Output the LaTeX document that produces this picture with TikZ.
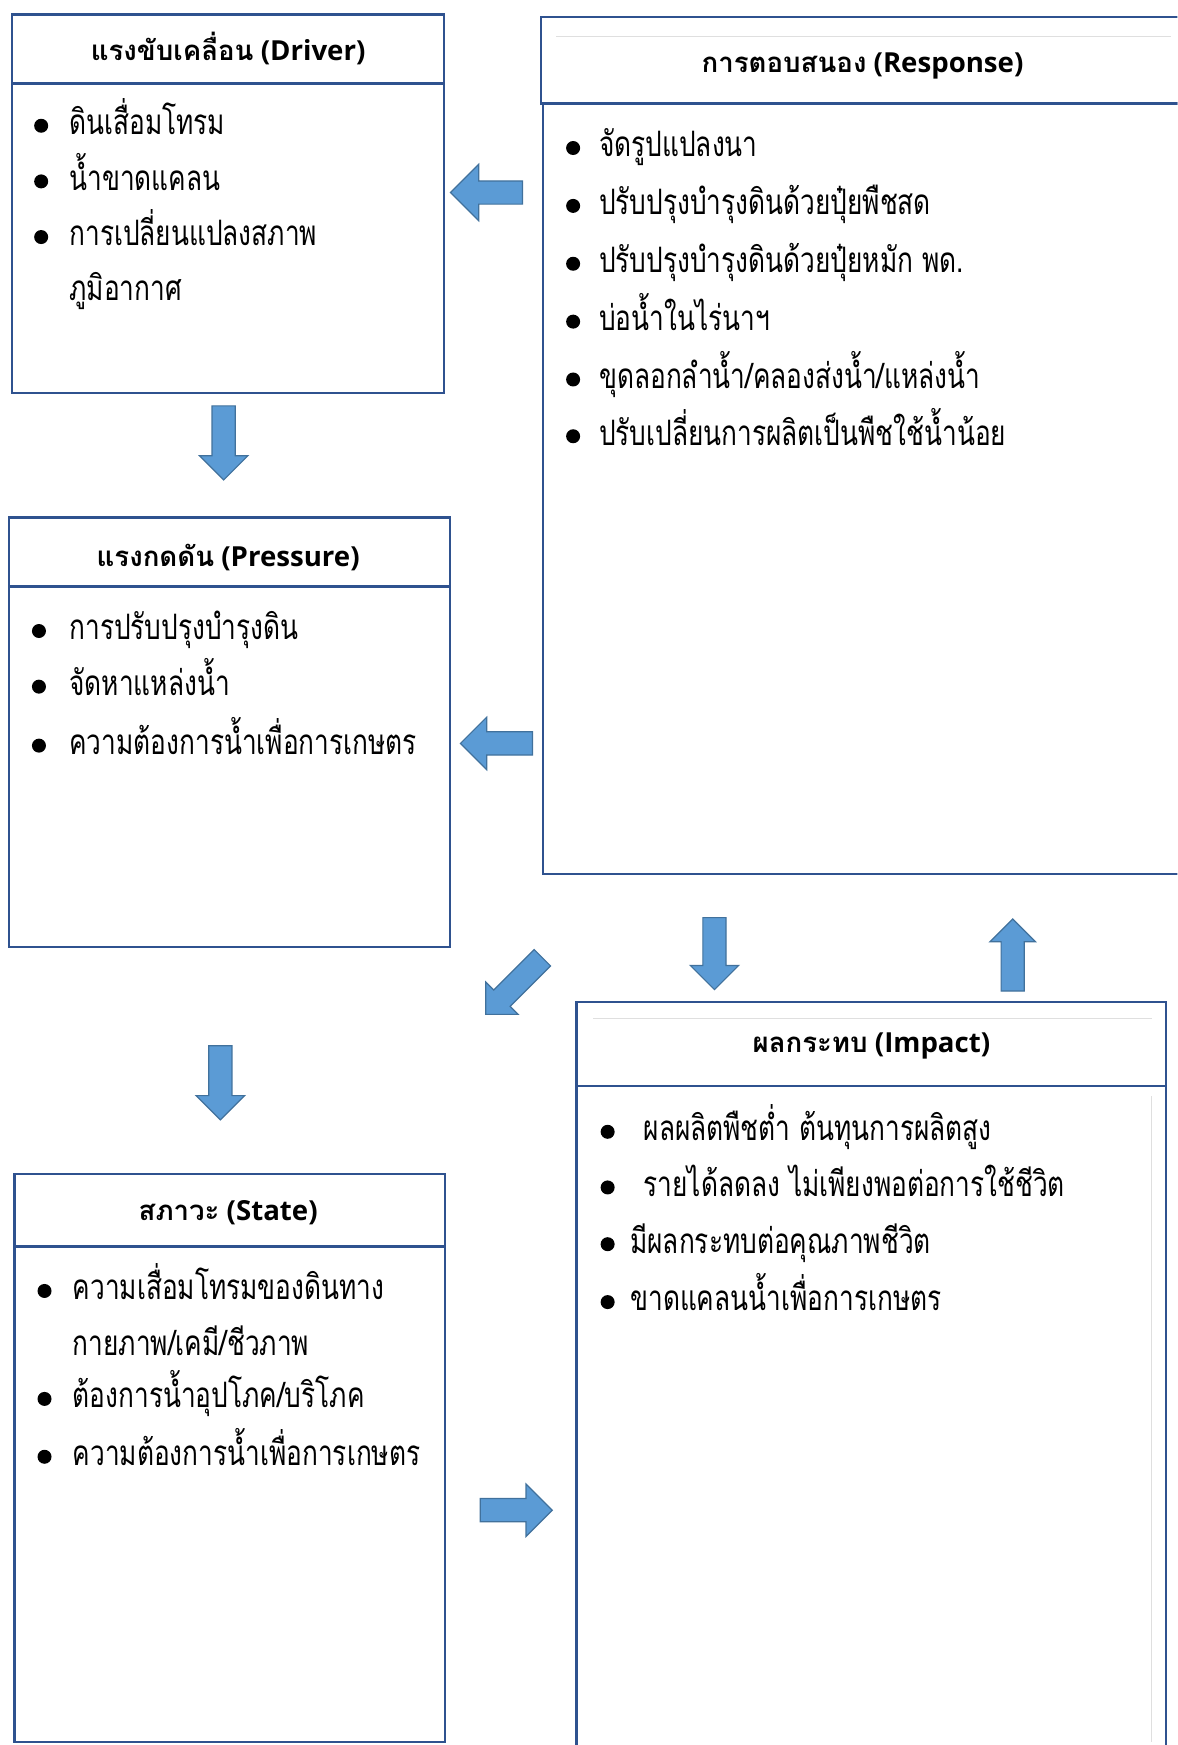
\documentclass[tikz,border=0pt]{standalone}
\usepackage{fontspec}
\setmainfont{Open Sans}
\newfontfamily\thaifont[Script=Thai,FakeStretch=0.75]{Loma}
\newfontfamily\thaihead[Script=Thai]{Loma}
\usetikzlibrary{shapes.arrows}
\definecolor{boxblue}{HTML}{2F528F}
\definecolor{arrfill}{HTML}{5B9BD5}
\definecolor{arrline}{HTML}{41719C}

\begin{document}
\begin{tikzpicture}[x=0.55625pt, y=-0.55625pt,
	box/.style={draw=boxblue, line width=1.1pt},
	faint/.style={draw=gray!25, line width=0.4pt},
	heading/.style={font=\bfseries\fontsize{13.8}{16}\selectfont, inner sep=0pt},
	item/.style={font=\thaifont\fontsize{17.5}{20}\selectfont, anchor=base west, inner sep=0pt},
	blockarrow/.style={single arrow, draw=arrline, fill=arrfill, line width=0.6pt, anchor=tip,
		inner xsep=0pt, inner ysep=5.5pt, minimum height=36pt, minimum width=0pt,
		single arrow head extend=6.3pt, single arrow tip angle=90}]
	\useasboundingbox (0,0) rectangle (1058,1568);
	\clip (0,0) rectangle (1058,1568);
	\def\dy{8};

	% Driver
	\draw[box] (11,13) rectangle (399,75);
	\draw[box] (11,75) rectangle (399,353);
	\node[heading] (drvT) at (205,44) {{\thaihead แรงขับเคลื่อน} (Driver)};
	\foreach \y/\t [count=\i] in {113/ดินเสื่อมโทรม, 163/น้ำขาดแคลน, 213/การเปลี่ยนแปลงสภาพ} {
		\fill (37,\y) circle (3.5pt);
		\node[item] (drv\i) at (62,\y+\dy) {\t};
	}
	\node[item] (drv4) at (62,262+\dy) {ภูมิอากาศ};

	% Response
	\draw[box] (486,15) rectangle (1070,93);
	\draw[box] (488,93) rectangle (1070,785);
	\draw[faint] (500,33) -- (1052,33);
	\node[heading] (rspT) at (775,59) {{\thaihead การตอบสนอง} (Response)};
	\foreach \y/\t [count=\i] in {133/จัดรูปแปลงนา, 185/ปรับปรุงบำรุงดินด้วยปุ๋ยพืชสด, 237/{ปรับปรุงบำรุงดินด้วยปุ๋ยหมัก พด.},
			289/บ่อน้ำในไร่นาฯ, 341/{ขุดลอกลำน้ำ/คลองส่งน้ำ/แหล่งน้ำ}, 392/ปรับเปลี่ยนการผลิตเป็นพืชใช้น้ำน้อย} {
		\fill (515,\y) circle (3.5pt);
		\node[item] (rsp\i) at (538,\y+\dy) {\t};
	}

	% Pressure
	\draw[box] (8,465) rectangle (404,527);
	\draw[box] (8,527) rectangle (404,851);
	\node[heading] (prsT) at (205,501) {{\thaihead แรงกดดัน} (Pressure)};
	\foreach \y/\t [count=\i] in {567/การปรับปรุงบำรุงดิน, 617/จัดหาแหล่งน้ำ, 670/ความต้องการน้ำเพื่อการเกษตร} {
		\fill (35,\y) circle (3.5pt);
		\node[item] (prs\i) at (62,\y+\dy) {\t};
	}

	% State
	\draw[box] (13,1055) rectangle (400,1120);
	\draw[box] (13,1120) rectangle (400,1565);
	\node[heading] (stT) at (205,1090) {{\thaihead สภาวะ} (State)};
	\foreach \y/\t [count=\i] in {1160/ความเสื่อมโทรมของดินทาง, 1257/{ต้องการน้ำอุปโภค/บริโภค}, 1309/ความต้องการน้ำเพื่อการเกษตร} {
		\fill (40,\y) circle (3.5pt);
		\node[item] (st\i) at (65,\y+\dy) {\t};
	}
	\node[item] (st4) at (65,1210+\dy) {กายภาพ/เคมี/ชีวภาพ};

	% Impact
	\draw[box] (518,900) rectangle (1048,976);
	\draw[box] (518,976) rectangle (1048,1580);
	\draw[faint] (533,915) -- (1035,915);
	\draw[faint] (1035,985) -- (1035,1565);
	\node[heading] (impT) at (783,940) {{\thaihead ผลกระทบ} (Impact)};
	\foreach \y/\x/\t [count=\i] in {1017/578/{ผลผลิตพืชต่ำ ต้นทุนการผลิตสูง}, 1067/578/{รายได้ลดลง ไม่เพียงพอต่อการใช้ชีวิต},
			1118/566/มีผลกระทบต่อคุณภาพชีวิต, 1170/566/ขาดแคลนน้ำเพื่อการเกษตร} {
		\fill (546,\y) circle (3.5pt);
		\node[item] (imp\i) at (\x,\y+\dy) {\t};
	}

	% arrows
	\node[blockarrow, rotate=180, single arrow head extend=8.3pt] (rspdrv) at (404,173) {};
	\node[blockarrow, rotate=-90, minimum height=37pt] (drvprs) at (201,432) {};
	\node[blockarrow, rotate=180, single arrow head extend=7.3pt] (rspprs) at (413,668) {};
	\node[blockarrow, rotate=-90] (rspimp) at (642,890) {};
	\node[blockarrow, rotate=90, single arrow head extend=5.6pt] (imprsp) at (910,825) {};
	\node[blockarrow, rotate=225, minimum height=40pt, single arrow head extend=5.6pt] (rspst) at (436,912) {};
	\node[blockarrow, rotate=-90, minimum height=37pt] (prsst) at (198,1007) {};
	\node[blockarrow, single arrow head extend=7.3pt] (stimp) at (497,1357) {};
\end{tikzpicture}
\end{document}
